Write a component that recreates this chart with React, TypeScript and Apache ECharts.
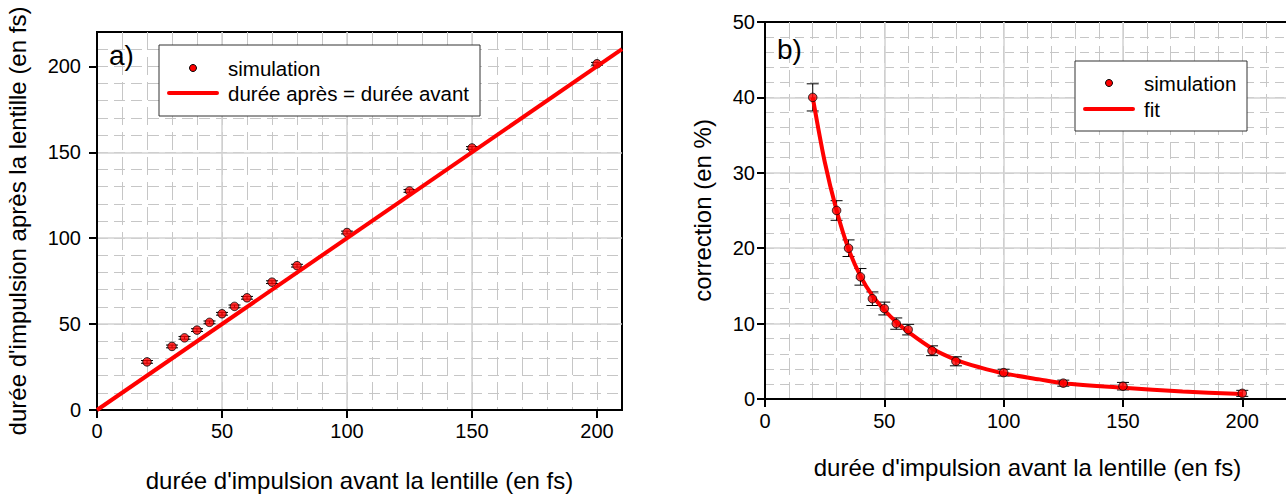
import React, { useEffect, useRef } from "react";
import * as echarts from "echarts";

const FONT = "'Liberation Sans', Arial, sans-serif";

// Panel a)
const aX = [20, 30, 35, 40, 45, 50, 55, 60, 70, 80, 100, 125, 150, 200];
const aY = [28, 37, 42, 46.5, 51, 56, 60.3, 65.3, 74.4, 84, 103.3, 127.5, 152.5, 201.5];
const aErr = [0.8, 0.8, 0.8, 0.8, 0.8, 0.8, 0.8, 0.8, 0.8, 0.8, 0.8, 0.8, 0.8, 0.8];
const diagX = [0, 210];
const diagY = [0, 210];
const aTicks = [0, 50, 100, 150, 200];

// Panel b)
const bX = [20, 30, 35, 40, 45, 50, 55, 60, 70, 80, 100, 125, 150, 200];
const bY = [40, 25, 20, 16.2, 13.3, 12, 10, 9.2, 6.4, 5, 3.5, 2.1, 1.7, 0.75];
const bErr = [1.8, 1.3, 1.1, 1.1, 0.9, 0.85, 0.75, 0.7, 0.65, 0.6, 0.45, 0.4, 0.5, 0.4];
const fitX = [20, 25, 30, 35, 40, 45, 50, 55, 60, 70, 80, 90, 100, 115, 125, 150, 175, 200];
const fitY = [40, 31.5, 25, 19.9, 16.3, 13.7, 11.8, 10.2, 8.9, 6.7, 5.2, 4.2, 3.4, 2.6, 2.1, 1.5, 1.0, 0.65];
const bXTicks = [0, 50, 100, 150, 200];
const bYTicks = [0, 10, 20, 30, 40, 50];

const RED = "#ff0000";
const MINOR = "#c6c6c6";
const MAJOR = "#d2d2d2";

function errRender(capHalf: number) {
  return (params: any, api: any) => {
    const x = api.value(0);
    const lo = api.value(1);
    const hi = api.value(2);
    const a = api.coord([x, lo]);
    const b = api.coord([x, hi]);
    const style = { stroke: "#000", lineWidth: 1 };
    return {
      type: "group",
      children: [
        { type: "line", shape: { x1: a[0], y1: a[1], x2: b[0], y2: b[1] }, style },
        { type: "line", shape: { x1: a[0] - capHalf, y1: a[1], x2: a[0] + capHalf, y2: a[1] }, style },
        { type: "line", shape: { x1: b[0] - capHalf, y1: b[1], x2: b[0] + capHalf, y2: b[1] }, style },
      ],
    };
  };
}

// data axis: carries the series, draws dashed minor grid only
function minorAxis(gridIndex: number, pos: string, max: number, interval: number, dash: number[]) {
  return {
    type: "value",
    gridIndex,
    position: pos,
    min: 0,
    max,
    interval,
    axisLine: { show: false, onZero: false },
    axisTick: { show: false },
    axisLabel: { show: false },
    splitLine: { show: true, showMinLine: false, showMaxLine: false, lineStyle: { color: MINOR, width: 1, type: dash } },
    z: 0,
  };
}

// decoration axis: axis line, ticks, labels, name and solid major grid
function majorAxis(gridIndex: number, pos: string, max: number, interval: number, ticks: number[], margin: number, name: string, nameGap: number) {
  return {
    type: "value",
    gridIndex,
    position: pos,
    min: 0,
    max,
    interval,
    name,
    nameLocation: "middle",
    nameGap,
    nameTextStyle: { fontSize: 24, color: "#000", fontFamily: FONT },
    axisLine: { show: true, onZero: false, lineStyle: { color: "#000", width: 2 } },
    axisTick: { show: true, length: 8, customValues: ticks, lineStyle: { color: "#000", width: 2 } },
    axisLabel: {
      show: true,
      customValues: ticks,
      margin,
      fontSize: 20,
      color: "#000",
      fontFamily: FONT,
      formatter: (v: number) => (ticks.indexOf(v) >= 0 ? String(v) : ""),
    },
    splitLine: { show: true, showMinLine: false, showMaxLine: false, lineStyle: { color: MAJOR, width: 1.5 } },
    z: 1,
  };
}

export default function App() {
  const ref = useRef<HTMLDivElement>(null);
  useEffect(() => {
    if (!ref.current) return;
    const chart = echarts.init(ref.current, null, { renderer: "svg" });
    const option: any = {
      animation: false,
      backgroundColor: "#fff",
      textStyle: { fontFamily: FONT },
      grid: [
        { left: 97, top: 32, width: 525, height: 378, outerBoundsMode: "none", containLabel: false, show: true, borderColor: "#000", borderWidth: 2, backgroundColor: "transparent" },
        { left: 765, top: 22, width: 525, height: 377, outerBoundsMode: "none", containLabel: false, show: true, borderColor: "#000", borderWidth: 2, backgroundColor: "transparent" },
      ],
      xAxis: [
        minorAxis(0, "bottom", 210, 10, [18, 7]),
        majorAxis(0, "bottom", 210, 50, aTicks, 11, "durée d'impulsion avant la lentille (en fs)", 58),
        minorAxis(1, "bottom", 220, 10, [17, 7]),
        majorAxis(1, "bottom", 220, 50, bXTicks, 12, "durée d'impulsion avant la lentille (en fs)", 56),
      ],
      yAxis: [
        minorAxis(0, "left", 220, 10, [11, 6]),
        majorAxis(0, "left", 220, 50, aTicks, 16, "durée d'impulsion après la lentille (en fs)", 68),
        minorAxis(1, "left", 50, 2, [9, 6]),
        majorAxis(1, "left", 50, 10, bYTicks, 10, "correction (en %)", 51),
      ],
      graphic: [
        { type: "text", left: 109, top: 41, style: { text: "a)", font: `28px ${FONT}`, fill: "#000" }, z: 10 },
        { type: "rect", shape: { x: 159, y: 45, width: 321, height: 71 }, style: { fill: "#fff", stroke: "#333", lineWidth: 1 }, z: 10 },
        { type: "circle", shape: { cx: 193, cy: 68, r: 3.5 }, style: { fill: RED, stroke: "#000", lineWidth: 1 }, z: 11 },
        { type: "line", shape: { x1: 169, y1: 93, x2: 217, y2: 93 }, style: { stroke: RED, lineWidth: 4, lineCap: "round" }, z: 11 },
        { type: "text", x: 228, y: 68, style: { text: "simulation", font: `20.5px ${FONT}`, fill: "#000", verticalAlign: "middle" }, z: 11 },
        { type: "text", x: 228, y: 93, style: { text: "durée après = durée avant", font: `20.5px ${FONT}`, fill: "#000", verticalAlign: "middle" }, z: 11 },

        { type: "text", left: 777, top: 35, style: { text: "b)", font: `28px ${FONT}`, fill: "#000" }, z: 10 },
        { type: "rect", shape: { x: 1075, y: 61, width: 172, height: 70 }, style: { fill: "#fff", stroke: "#333", lineWidth: 1 }, z: 10 },
        { type: "circle", shape: { cx: 1109, cy: 83, r: 3.5 }, style: { fill: RED, stroke: "#000", lineWidth: 1 }, z: 11 },
        { type: "line", shape: { x1: 1085, y1: 109, x2: 1133, y2: 109 }, style: { stroke: RED, lineWidth: 4, lineCap: "round" }, z: 11 },
        { type: "text", x: 1144, y: 83, style: { text: "simulation", font: `20.5px ${FONT}`, fill: "#000", verticalAlign: "middle" }, z: 11 },
        { type: "text", x: 1144, y: 109, style: { text: "fit", font: `20.5px ${FONT}`, fill: "#000", verticalAlign: "middle" }, z: 11 },
      ],
      series: [
        {
          type: "custom",
          xAxisIndex: 0,
          yAxisIndex: 0,
          renderItem: errRender(6),
          data: aX.map((x, i) => [x, aY[i] - aErr[i], aY[i] + aErr[i]]),
          z: 2,
        },
        {
          type: "scatter",
          xAxisIndex: 0,
          yAxisIndex: 0,
          symbolSize: 8.5,
          itemStyle: { color: RED, borderColor: "#000", borderWidth: 1 },
          data: aX.map((x, i) => [x, aY[i]]),
          z: 3,
        },
        {
          type: "line",
          xAxisIndex: 0,
          yAxisIndex: 0,
          showSymbol: false,
          lineStyle: { color: RED, width: 4 },
          data: diagX.map((x, i) => [x, diagY[i]]),
          z: 4,
        },
        {
          type: "custom",
          xAxisIndex: 2,
          yAxisIndex: 2,
          renderItem: errRender(6),
          data: bX.map((x, i) => [x, bY[i] - bErr[i], bY[i] + bErr[i]]),
          z: 2,
        },
        {
          type: "line",
          xAxisIndex: 2,
          yAxisIndex: 2,
          showSymbol: false,
          smooth: 0.3,
          lineStyle: { color: RED, width: 4 },
          data: fitX.map((x, i) => [x, fitY[i]]),
          z: 3,
        },
        {
          type: "scatter",
          xAxisIndex: 2,
          yAxisIndex: 2,
          symbolSize: 8.5,
          itemStyle: { color: RED, borderColor: "#000", borderWidth: 1 },
          data: bX.map((x, i) => [x, bY[i]]),
          z: 4,
        },
      ],
    };
    chart.setOption(option);
    return () => chart.dispose();
  }, []);
  return (
    <div
      ref={ref}
      style={{ position: "fixed", left: 0, top: 0, width: 1286, height: 495, background: "#fff" }}
    />
  );
}
